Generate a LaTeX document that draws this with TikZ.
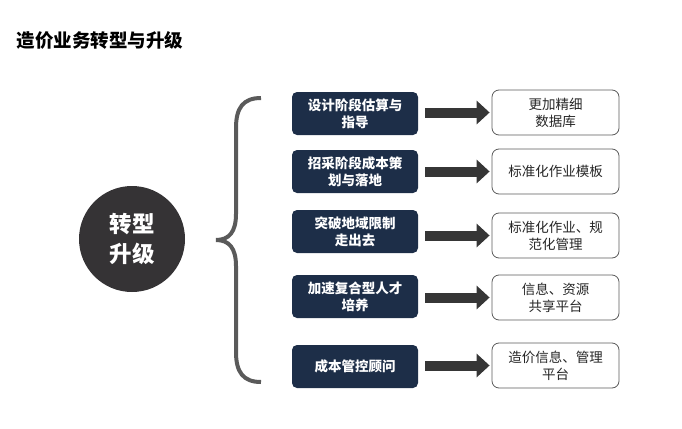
\documentclass[tikz,border=0pt]{standalone}
\usepackage{fontspec}
\setmainfont{Noto Sans CJK SC}
\definecolor{navy}{HTML}{1D2E48}
\definecolor{charcoal}{HTML}{353335}
\definecolor{bracegray}{HTML}{5A5A5A}
\definecolor{arrowgray}{HTML}{363636}
\definecolor{textgray}{HTML}{262626}
\usetikzlibrary{arrows.meta}
\tikzset{
  stagebox/.style={fill=navy, rounded corners=5pt, minimum width=126pt, minimum height=43pt,
    text=white, font=\fontsize{13.5}{17}\selectfont\bfseries, align=center, inner sep=1pt},
  resultbox/.style={draw=bracegray, line width=0.8pt, rounded corners=7pt, fill=white,
    minimum width=127pt, minimum height=45pt, text=textgray,
    font=\fontsize{13.5}{17}\selectfont, align=center, inner sep=1pt},
  fatarrow/.style={draw=arrowgray, line width=10pt,
    -{Triangle[length=13pt, width=23pt]}, shorten <=7pt, shorten >=2pt}
}
\begin{document}
\begin{tikzpicture}[x=1pt, y=-1pt]
  \useasboundingbox (0,0) rectangle (682,428);

  % title
  \node[anchor=west, font=\fontsize{18.5}{20}\selectfont\bfseries, text=black] (title) at (13,40) {造价业务转型与升级};

  % central circle
  \node[circle, fill=charcoal, minimum size=106pt, text=white, align=center,
        font=\fontsize{22.5}{30}\selectfont\bfseries] (core) at (132,239) {转型\\升级};

  % curly brace
  \draw[bracegray, line width=4pt] (261,98) .. controls (243,98) and (236,108) .. (236,128)
    -- (236,214) .. controls (236,232) and (229,240) .. (216,240)
    .. controls (229,240) and (236,248) .. (236,266)
    -- (236,352) .. controls (236,372) and (243,382) .. (261,382);

  % left column
  \node[stagebox] (s1) at (355,113.5) {设计阶段估算与\\指导};
  \node[stagebox] (s2) at (355,171.5) {招采阶段成本策\\划与落地};
  \node[stagebox] (s3) at (355,231.5) {突破地域限制\\走出去};
  \node[stagebox] (s4) at (355,296.5) {加速复合型人才\\培养};
  \node[stagebox] (s5) at (355,366.5) {成本管控顾问};

  % right column
  \node[resultbox] (r1) at (555.5,112.5) {更加精细\\数据库};
  \node[resultbox] (r2) at (555.5,171.5) {标准化作业模板};
  \node[resultbox] (r3) at (555.5,235.5) {标准化作业、规\\范化管理};
  \node[resultbox] (r4) at (555.5,297.5) {信息、资源\\共享平台};
  \node[resultbox] (r5) at (555.5,365.5) {造价信息、管理\\平台};

  % arrows
  \foreach \i in {1,...,5}
    \draw[fatarrow] (s\i.east |- r\i.center) -- (r\i.west);
\end{tikzpicture}
\end{document}
